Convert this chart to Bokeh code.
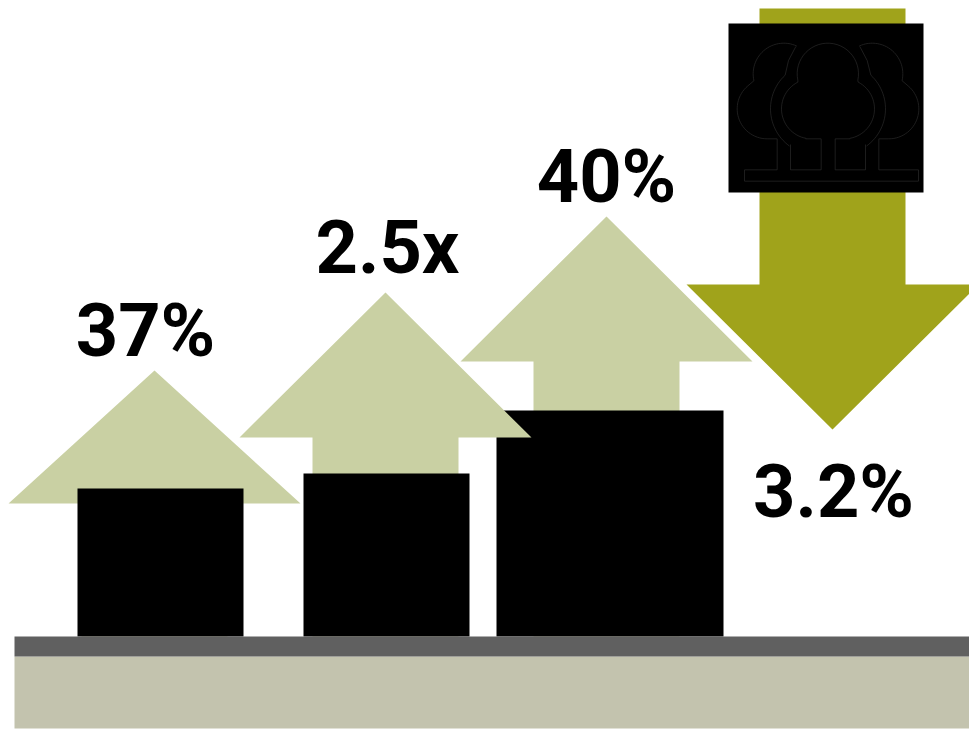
import numpy as np
from bokeh.plotting import figure
from bokeh.models import Range1d
from bokeh.core.properties import value
from bokeh.embed import file_html
from bokeh.resources import INLINE

labels = ["37%", "2.5x", "40%", "3.2%"]
bar_lefts = [77, 303, 496]
bar_rights = [243, 469, 723]
bar_tops = [488, 473, 410]
up_tips_x = [154, 385, 606]
up_tips_y = [370, 292, 216]
up_head_base = [503, 437, 361]
label_x = [145, 387, 606, 833]
label_y = [330, 247, 176, 491]
baseline = 636

p = figure(width=969, height=729, output_backend="svg", toolbar_location=None,
           x_range=Range1d(0, 969), y_range=Range1d(729, 0),
           min_border=0, outline_line_color=None)
p.xaxis.visible = False
p.yaxis.visible = False
p.grid.visible = False
p.background_fill_color = "white"
p.border_fill_color = "white"

LIGHT = "#C9D0A3"
OLIVE = "#A0A31B"


def up_arrow(tx, ty, base):
    xs = [tx, tx + 146, tx + 73, tx + 73, tx - 73, tx - 73, tx - 146]
    ys = [ty, base, base, baseline, baseline, base, base]
    return xs, ys


# stacking: each arrow sits over the bar to its right, under its own bar
for i in (2, 1, 0):
    xs, ys = up_arrow(up_tips_x[i], up_tips_y[i], up_head_base[i])
    p.patch(xs, ys, fill_color=LIGHT, line_color=None)
    p.quad(left=[bar_lefts[i]], right=[bar_rights[i]], top=[bar_tops[i]], bottom=[baseline],
           fill_color="black", line_color=None)

# down arrow
p.patch([759, 905, 905, 978, 832, 686, 759], [8, 8, 284, 284, 429, 284, 284],
        fill_color=OLIVE, line_color=None)

# ground
p.quad(left=[14], right=[969], top=[656], bottom=[728], fill_color="#C3C3AE", line_color=None)
p.quad(left=[14], right=[969], top=[636], bottom=[656], fill_color="#606060", line_color=None)

# icon square
p.quad(left=[728], right=[923], top=[23], bottom=[192], fill_color="black", line_color=None)


def arc(cx, cy, r, a0, a1, n=30):
    t = np.radians(np.linspace(a0, a1, n))
    return list(cx + r * np.cos(t)), list(cy - r * np.sin(t))


def Z(xs, ys):
    return [720 + x / 3 for x in xs], [y / 3 for y in ys]


def add(xs, ys):
    a, b = Z(xs, ys)
    lines_x.append(a)
    lines_y.append(b)


lines_x, lines_y = [], []

# centre tree: left lobe, crown, right lobe, trunk gaps
x1, y1 = arc(273, 325, 90, 260, 117)
x2, y2 = arc(322, 220, 92, 192, -12)
x3, y3 = arc(372, 325, 90, 63, -80)
add(x1 + x2 + x3, y1 + y2 + y3)
add([255, 302, 302, 210, 210], [415, 415, 508, 508, 432])
add([389, 344, 344, 435, 435], [415, 415, 508, 508, 432])

# left tree
x1, y1 = arc(190, 220, 92, 65, 193)
x2, y2 = arc(140, 325, 90, 130, 270)
lx = x1 + x2
ly = y1 + y2
add(lx + [170, 170, 72], ly + [415, 508, 508])
# right tree with base line
add([645 - v for v in lx] + [475, 475, 594, 594, 72, 72], ly + [415, 508, 508, 542, 542, 508])

# gaps between trees
gx, gy = arc(288, 325, 138, 133, 234)
add([226, 204] + gx, [138, 180] + gy)
gx, gy = arc(357, 325, 138, 47, -54)
add([418, 440] + gx, [138, 180] + gy)

p.multi_line(lines_x, lines_y, line_color="#3a3a3a", line_width=0.5)

# labels
p.text(x=label_x, y=label_y, text=labels, text_font=value("Roboto"), text_font_style="bold",
       text_font_size="74px", text_align="center", text_baseline="middle", text_color="black")

open("out.html", "w").write(file_html(p, INLINE))
